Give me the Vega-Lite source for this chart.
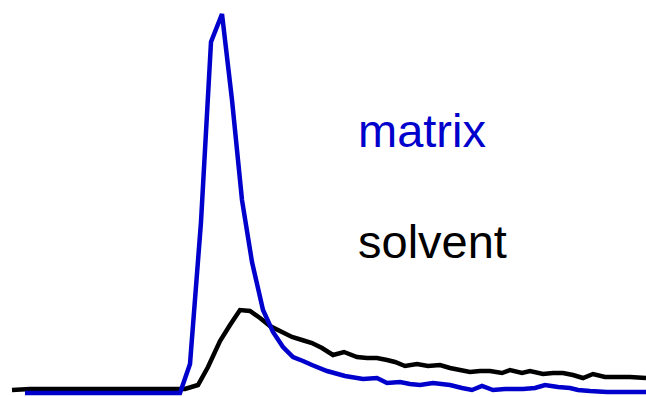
{
  "$schema": "https://vega.github.io/schema/vega-lite/v6.json",
  "width": 646,
  "height": 397,
  "autosize": {"type": "none"},
  "padding": 0,
  "background": "white",
  "config": {"view": {"stroke": null}},
  "datasets": {
    "traces": [
      {"series": "solvent", "t": 1.2, "signal": 3},
      {"series": "solvent", "t": 3.0, "signal": 4},
      {"series": "solvent", "t": 5.0, "signal": 4},
      {"series": "solvent", "t": 7.0, "signal": 4},
      {"series": "solvent", "t": 9.0, "signal": 4},
      {"series": "solvent", "t": 11.0, "signal": 4},
      {"series": "solvent", "t": 13.0, "signal": 4},
      {"series": "solvent", "t": 15.0, "signal": 4},
      {"series": "solvent", "t": 17.0, "signal": 4},
      {"series": "solvent", "t": 18.5, "signal": 4},
      {"series": "solvent", "t": 19.8, "signal": 8},
      {"series": "solvent", "t": 20.8, "signal": 26},
      {"series": "solvent", "t": 22.0, "signal": 52},
      {"series": "solvent", "t": 23.0, "signal": 68},
      {"series": "solvent", "t": 24.0, "signal": 83},
      {"series": "solvent", "t": 25.0, "signal": 82},
      {"series": "solvent", "t": 26.0, "signal": 75},
      {"series": "solvent", "t": 27.0, "signal": 67},
      {"series": "solvent", "t": 28.0, "signal": 62},
      {"series": "solvent", "t": 29.2, "signal": 56},
      {"series": "solvent", "t": 30.2, "signal": 53},
      {"series": "solvent", "t": 31.2, "signal": 50},
      {"series": "solvent", "t": 32.2, "signal": 45},
      {"series": "solvent", "t": 33.3, "signal": 38},
      {"series": "solvent", "t": 34.4, "signal": 41},
      {"series": "solvent", "t": 35.7, "signal": 36},
      {"series": "solvent", "t": 36.7, "signal": 35},
      {"series": "solvent", "t": 37.7, "signal": 35},
      {"series": "solvent", "t": 38.7, "signal": 33},
      {"series": "solvent", "t": 39.5, "signal": 31},
      {"series": "solvent", "t": 40.5, "signal": 27},
      {"series": "solvent", "t": 41.7, "signal": 29},
      {"series": "solvent", "t": 42.8, "signal": 27},
      {"series": "solvent", "t": 44.0, "signal": 28},
      {"series": "solvent", "t": 45.0, "signal": 25},
      {"series": "solvent", "t": 46.0, "signal": 23},
      {"series": "solvent", "t": 47.0, "signal": 21},
      {"series": "solvent", "t": 48.0, "signal": 22},
      {"series": "solvent", "t": 49.0, "signal": 22},
      {"series": "solvent", "t": 50.2, "signal": 20},
      {"series": "solvent", "t": 51.0, "signal": 23},
      {"series": "solvent", "t": 52.2, "signal": 20},
      {"series": "solvent", "t": 53.0, "signal": 22},
      {"series": "solvent", "t": 54.3, "signal": 19},
      {"series": "solvent", "t": 55.3, "signal": 20},
      {"series": "solvent", "t": 56.3, "signal": 20},
      {"series": "solvent", "t": 57.3, "signal": 18},
      {"series": "solvent", "t": 58.3, "signal": 15},
      {"series": "solvent", "t": 59.3, "signal": 19},
      {"series": "solvent", "t": 60.5, "signal": 16},
      {"series": "solvent", "t": 61.7, "signal": 16},
      {"series": "solvent", "t": 63.0, "signal": 16},
      {"series": "solvent", "t": 64.6, "signal": 15},

      {"series": "matrix", "t": 2.5, "signal": 0},
      {"series": "matrix", "t": 5.0, "signal": 0},
      {"series": "matrix", "t": 8.0, "signal": 0},
      {"series": "matrix", "t": 11.0, "signal": 0},
      {"series": "matrix", "t": 14.0, "signal": 0},
      {"series": "matrix", "t": 17.0, "signal": 0},
      {"series": "matrix", "t": 18.0, "signal": 0},
      {"series": "matrix", "t": 19.0, "signal": 29},
      {"series": "matrix", "t": 20.1, "signal": 171},
      {"series": "matrix", "t": 21.1, "signal": 351},
      {"series": "matrix", "t": 22.2, "signal": 379},
      {"series": "matrix", "t": 23.2, "signal": 293},
      {"series": "matrix", "t": 24.2, "signal": 193},
      {"series": "matrix", "t": 25.2, "signal": 131},
      {"series": "matrix", "t": 26.3, "signal": 83},
      {"series": "matrix", "t": 27.3, "signal": 61},
      {"series": "matrix", "t": 28.3, "signal": 46},
      {"series": "matrix", "t": 29.3, "signal": 36},
      {"series": "matrix", "t": 30.3, "signal": 32},
      {"series": "matrix", "t": 31.2, "signal": 28},
      {"series": "matrix", "t": 32.7, "signal": 22},
      {"series": "matrix", "t": 34.5, "signal": 17},
      {"series": "matrix", "t": 36.3, "signal": 14},
      {"series": "matrix", "t": 37.7, "signal": 15},
      {"series": "matrix", "t": 38.7, "signal": 10},
      {"series": "matrix", "t": 40.0, "signal": 11},
      {"series": "matrix", "t": 41.0, "signal": 9},
      {"series": "matrix", "t": 42.0, "signal": 8},
      {"series": "matrix", "t": 43.3, "signal": 10},
      {"series": "matrix", "t": 45.0, "signal": 8},
      {"series": "matrix", "t": 46.2, "signal": 5},
      {"series": "matrix", "t": 47.2, "signal": 3},
      {"series": "matrix", "t": 48.2, "signal": 7},
      {"series": "matrix", "t": 49.3, "signal": 3},
      {"series": "matrix", "t": 50.5, "signal": 4},
      {"series": "matrix", "t": 52.3, "signal": 4},
      {"series": "matrix", "t": 53.5, "signal": 5},
      {"series": "matrix", "t": 54.5, "signal": 8},
      {"series": "matrix", "t": 55.8, "signal": 6},
      {"series": "matrix", "t": 57.0, "signal": 5},
      {"series": "matrix", "t": 57.8, "signal": 3},
      {"series": "matrix", "t": 59.0, "signal": 2},
      {"series": "matrix", "t": 60.7, "signal": 1},
      {"series": "matrix", "t": 62.0, "signal": 1},
      {"series": "matrix", "t": 64.6, "signal": 1}
    ],
    "labels": [
      {"series": "matrix", "t": 35.8, "signal": 246},
      {"series": "solvent", "t": 35.8, "signal": 135}
    ]
  },
  "encoding": {
    "x": {"field": "t", "type": "quantitative", "scale": {"domain": [0, 64.6], "nice": false, "zero": false}, "axis": null},
    "y": {"field": "signal", "type": "quantitative", "scale": {"domain": [-4, 393], "nice": false, "zero": false}, "axis": null},
    "color": {
      "field": "series",
      "type": "nominal",
      "scale": {"domain": ["matrix", "solvent"], "range": ["#0000cc", "#000000"]},
      "legend": null
    }
  },
  "layer": [
    {
      "data": {"name": "traces"},
      "mark": {"type": "line", "strokeWidth": 4.5, "strokeJoin": "miter", "clip": false},
      "encoding": {"detail": {"field": "series"}, "order": {"field": "t"}}
    },
    {
      "data": {"name": "labels"},
      "mark": {"type": "text", "align": "left", "baseline": "alphabetic", "font": "Liberation Sans", "fontSize": 47},
      "encoding": {"text": {"field": "series"}}
    }
  ]
}
